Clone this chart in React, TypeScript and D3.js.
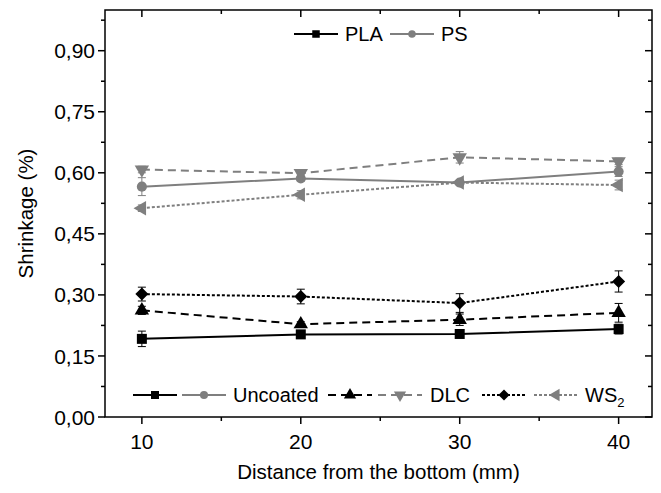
import React, { useEffect, useRef } from "react";
import * as d3 from "d3";

// distance from the bottom (mm)
const distances = [10, 20, 30, 40];

// shrinkage (%)
const plaUncoated = [0.192, 0.203, 0.204, 0.216];
const plaUncoatedErr = [0.019, 0.006, 0.005, 0.012];
const plaDLC = [0.262, 0.228, 0.239, 0.256];
const plaDLCErr = [0.01, 0.006, 0.014, 0.023];
const plaWS2 = [0.302, 0.296, 0.28, 0.333];
const plaWS2Err = [0.017, 0.018, 0.023, 0.026];

const psUncoated = [0.566, 0.586, 0.576, 0.603];
const psUncoatedErr = [0.022, 0.006, 0.005, 0.012];
const psDLC = [0.608, 0.599, 0.638, 0.628];
const psDLCErr = [0.008, 0.008, 0.014, 0.008];
const psWS2 = [0.513, 0.546, 0.576, 0.57];
const psWS2Err = [0.008, 0.01, 0.006, 0.012];

const yTicks = [0, 0.15, 0.3, 0.45, 0.6, 0.75, 0.9];
const xTicks = [10, 20, 30, 40];

const BLACK = "#000";
const GRAY = "#7f7f7f";
const FONT = "'Liberation Sans', Arial, sans-serif";

const series = [
  { vals: plaUncoated, err: plaUncoatedErr, color: BLACK, dash: null, sym: "square" },
  { vals: psUncoated, err: psUncoatedErr, color: GRAY, dash: null, sym: "circle" },
  { vals: plaDLC, err: plaDLCErr, color: BLACK, dash: "8,5", sym: "up" },
  { vals: psDLC, err: psDLCErr, color: GRAY, dash: "8,5", sym: "down" },
  { vals: plaWS2, err: plaWS2Err, color: BLACK, dash: "3,2", sym: "diamond" },
  { vals: psWS2, err: psWS2Err, color: GRAY, dash: "3,2", sym: "left" },
];

function symbolPath(kind: string) {
  if (kind === "square") return { d: d3.symbol(d3.symbolSquare, 100)(), rot: 0 };
  if (kind === "circle") return { d: d3.symbol(d3.symbolCircle, 80)(), rot: 0 };
  if (kind === "diamond") return { d: d3.symbol(d3.symbolSquare, 85)(), rot: 45 };
  if (kind === "up") return { d: d3.symbol(d3.symbolTriangle, 90)(), rot: 0 };
  if (kind === "down") return { d: d3.symbol(d3.symbolTriangle, 90)(), rot: 180 };
  return { d: d3.symbol(d3.symbolTriangle, 90)(), rot: -90 };
}

export default function App() {
  const ref = useRef<SVGSVGElement>(null);

  useEffect(() => {
    const svg = d3.select(ref.current);
    svg.selectAll("*").remove();

    const left = 105, right = 652, top = 10, bottom = 417;
    const x = d3.scaleLinear().domain([7.68, 42.1]).range([left, right]);
    const y = d3.scaleLinear().domain([0, 1.0]).range([bottom, top]);

    const g = svg.append("g");

    // frame
    g.append("rect")
      .attr("x", left).attr("y", top)
      .attr("width", right - left).attr("height", bottom - top)
      .attr("fill", "none").attr("stroke", "#000").attr("stroke-width", 1.5);

    const yMinor = d3.range(0.075, 1.0, 0.15);
    const xMinor = [15, 25, 35];

    // y ticks (outer left, inner right)
    yTicks.forEach((t) => {
      g.append("line").attr("x1", left - 7).attr("x2", left).attr("y1", y(t)).attr("y2", y(t)).attr("stroke", "#000").attr("stroke-width", 1.5);
      g.append("line").attr("x1", right - 7).attr("x2", right).attr("y1", y(t)).attr("y2", y(t)).attr("stroke", "#000").attr("stroke-width", 1.5);
      g.append("text")
        .attr("x", left - 10).attr("y", y(t)).attr("dy", "0.36em")
        .attr("text-anchor", "end")
        .attr("font-family", FONT).attr("font-size", 21)
        .text(d3.format(".2f")(t).replace(".", ","));
    });
    yMinor.forEach((t) => {
      g.append("line").attr("x1", left - 4).attr("x2", left).attr("y1", y(t)).attr("y2", y(t)).attr("stroke", "#000").attr("stroke-width", 1.5);
      g.append("line").attr("x1", right - 4).attr("x2", right).attr("y1", y(t)).attr("y2", y(t)).attr("stroke", "#000").attr("stroke-width", 1.5);
    });

    // x ticks (outer bottom, inner top)
    xTicks.forEach((t) => {
      g.append("line").attr("x1", x(t)).attr("x2", x(t)).attr("y1", bottom).attr("y2", bottom + 7).attr("stroke", "#000").attr("stroke-width", 1.5);
      g.append("line").attr("x1", x(t)).attr("x2", x(t)).attr("y1", top).attr("y2", top + 7).attr("stroke", "#000").attr("stroke-width", 1.5);
      g.append("text")
        .attr("x", x(t)).attr("y", bottom + 32)
        .attr("text-anchor", "middle")
        .attr("font-family", FONT).attr("font-size", 21)
        .text(t);
    });
    xMinor.forEach((t) => {
      g.append("line").attr("x1", x(t)).attr("x2", x(t)).attr("y1", bottom).attr("y2", bottom + 4).attr("stroke", "#000").attr("stroke-width", 1.5);
      g.append("line").attr("x1", x(t)).attr("x2", x(t)).attr("y1", top).attr("y2", top + 4).attr("stroke", "#000").attr("stroke-width", 1.5);
    });

    // axis titles
    g.append("text")
      .attr("x", (left + right) / 2).attr("y", 479)
      .attr("text-anchor", "middle")
      .attr("font-family", FONT).attr("font-size", 20.5)
      .text("Distance from the bottom (mm)");
    g.append("text")
      .attr("transform", `translate(33,${(top + bottom) / 2}) rotate(-90)`)
      .attr("text-anchor", "middle")
      .attr("font-family", FONT).attr("font-size", 20.5)
      .text("Shrinkage (%)");

    const line = d3.line<number>().x((_, i) => x(distances[i])).y((d) => y(d));

    series.forEach((s) => {
      const sg = g.append("g");
      // error bars
      s.vals.forEach((v, i) => {
        const cx = x(distances[i]);
        const y1 = y(v - s.err[i]), y2 = y(v + s.err[i]);
        sg.append("line").attr("x1", cx).attr("x2", cx).attr("y1", y1).attr("y2", y2).attr("stroke", s.color).attr("stroke-width", 1);
        [y1, y2].forEach((yy) =>
          sg.append("line").attr("x1", cx - 4).attr("x2", cx + 4).attr("y1", yy).attr("y2", yy).attr("stroke", s.color).attr("stroke-width", 1)
        );
      });
      sg.append("path")
        .attr("d", line(s.vals))
        .attr("fill", "none")
        .attr("stroke", s.color)
        .attr("stroke-width", 2)
        .attr("stroke-dasharray", s.dash);
      const sp = symbolPath(s.sym);
      s.vals.forEach((v, i) => {
        sg.append("path")
          .attr("d", sp.d)
          .attr("transform", `translate(${x(distances[i])},${y(v)}) rotate(${sp.rot})`)
          .attr("fill", s.color);
      });
    });

    // legend sample helper
    const sample = (x0: number, yy: number, color: string, dash: string | null, sym: string, sizeScale = 1) => {
      g.append("line").attr("x1", x0).attr("x2", x0 + 44).attr("y1", yy).attr("y2", yy)
        .attr("stroke", color).attr("stroke-width", 2).attr("stroke-dasharray", dash);
      const sp = symbolPath(sym);
      g.append("path").attr("d", sp.d)
        .attr("transform", `translate(${x0 + 22},${yy}) rotate(${sp.rot}) scale(${sizeScale})`)
        .attr("fill", color);
    };
    const label = (x0: number, yy: number, txt: string) =>
      g.append("text").attr("x", x0).attr("y", yy).attr("dy", "0.36em")
        .attr("font-family", FONT).attr("font-size", 20).text(txt);

    // top legend
    sample(294, 34, BLACK, null, "square", 0.75);
    label(345, 34, "PLA");
    sample(390, 34, GRAY, null, "circle", 0.75);
    label(441, 34, "PS");

    // bottom legend
    const ly = 395;
    sample(133, ly, BLACK, null, "square", 0.8);
    sample(182, ly, GRAY, null, "circle", 0.8);
    label(233, ly, "Uncoated");
    sample(328, ly, BLACK, "8,5", "up", 0.85);
    sample(378, ly, GRAY, "8,5", "down", 0.85);
    label(430, ly, "DLC");
    sample(482, ly, BLACK, "3,2", "diamond", 0.85);
    sample(534, ly, GRAY, "3,2", "left", 0.85);
    const ws = label(585, ly, "WS");
    ws.append("tspan").attr("font-size", 13).attr("dy", "0.35em").text("2");
  }, []);

  return (
    <div style={{ position: "absolute", left: 0, top: 0 }}>
      <svg ref={ref} width={661} height={493} style={{ display: "block", background: "#fff" }} />
    </div>
  );
}
